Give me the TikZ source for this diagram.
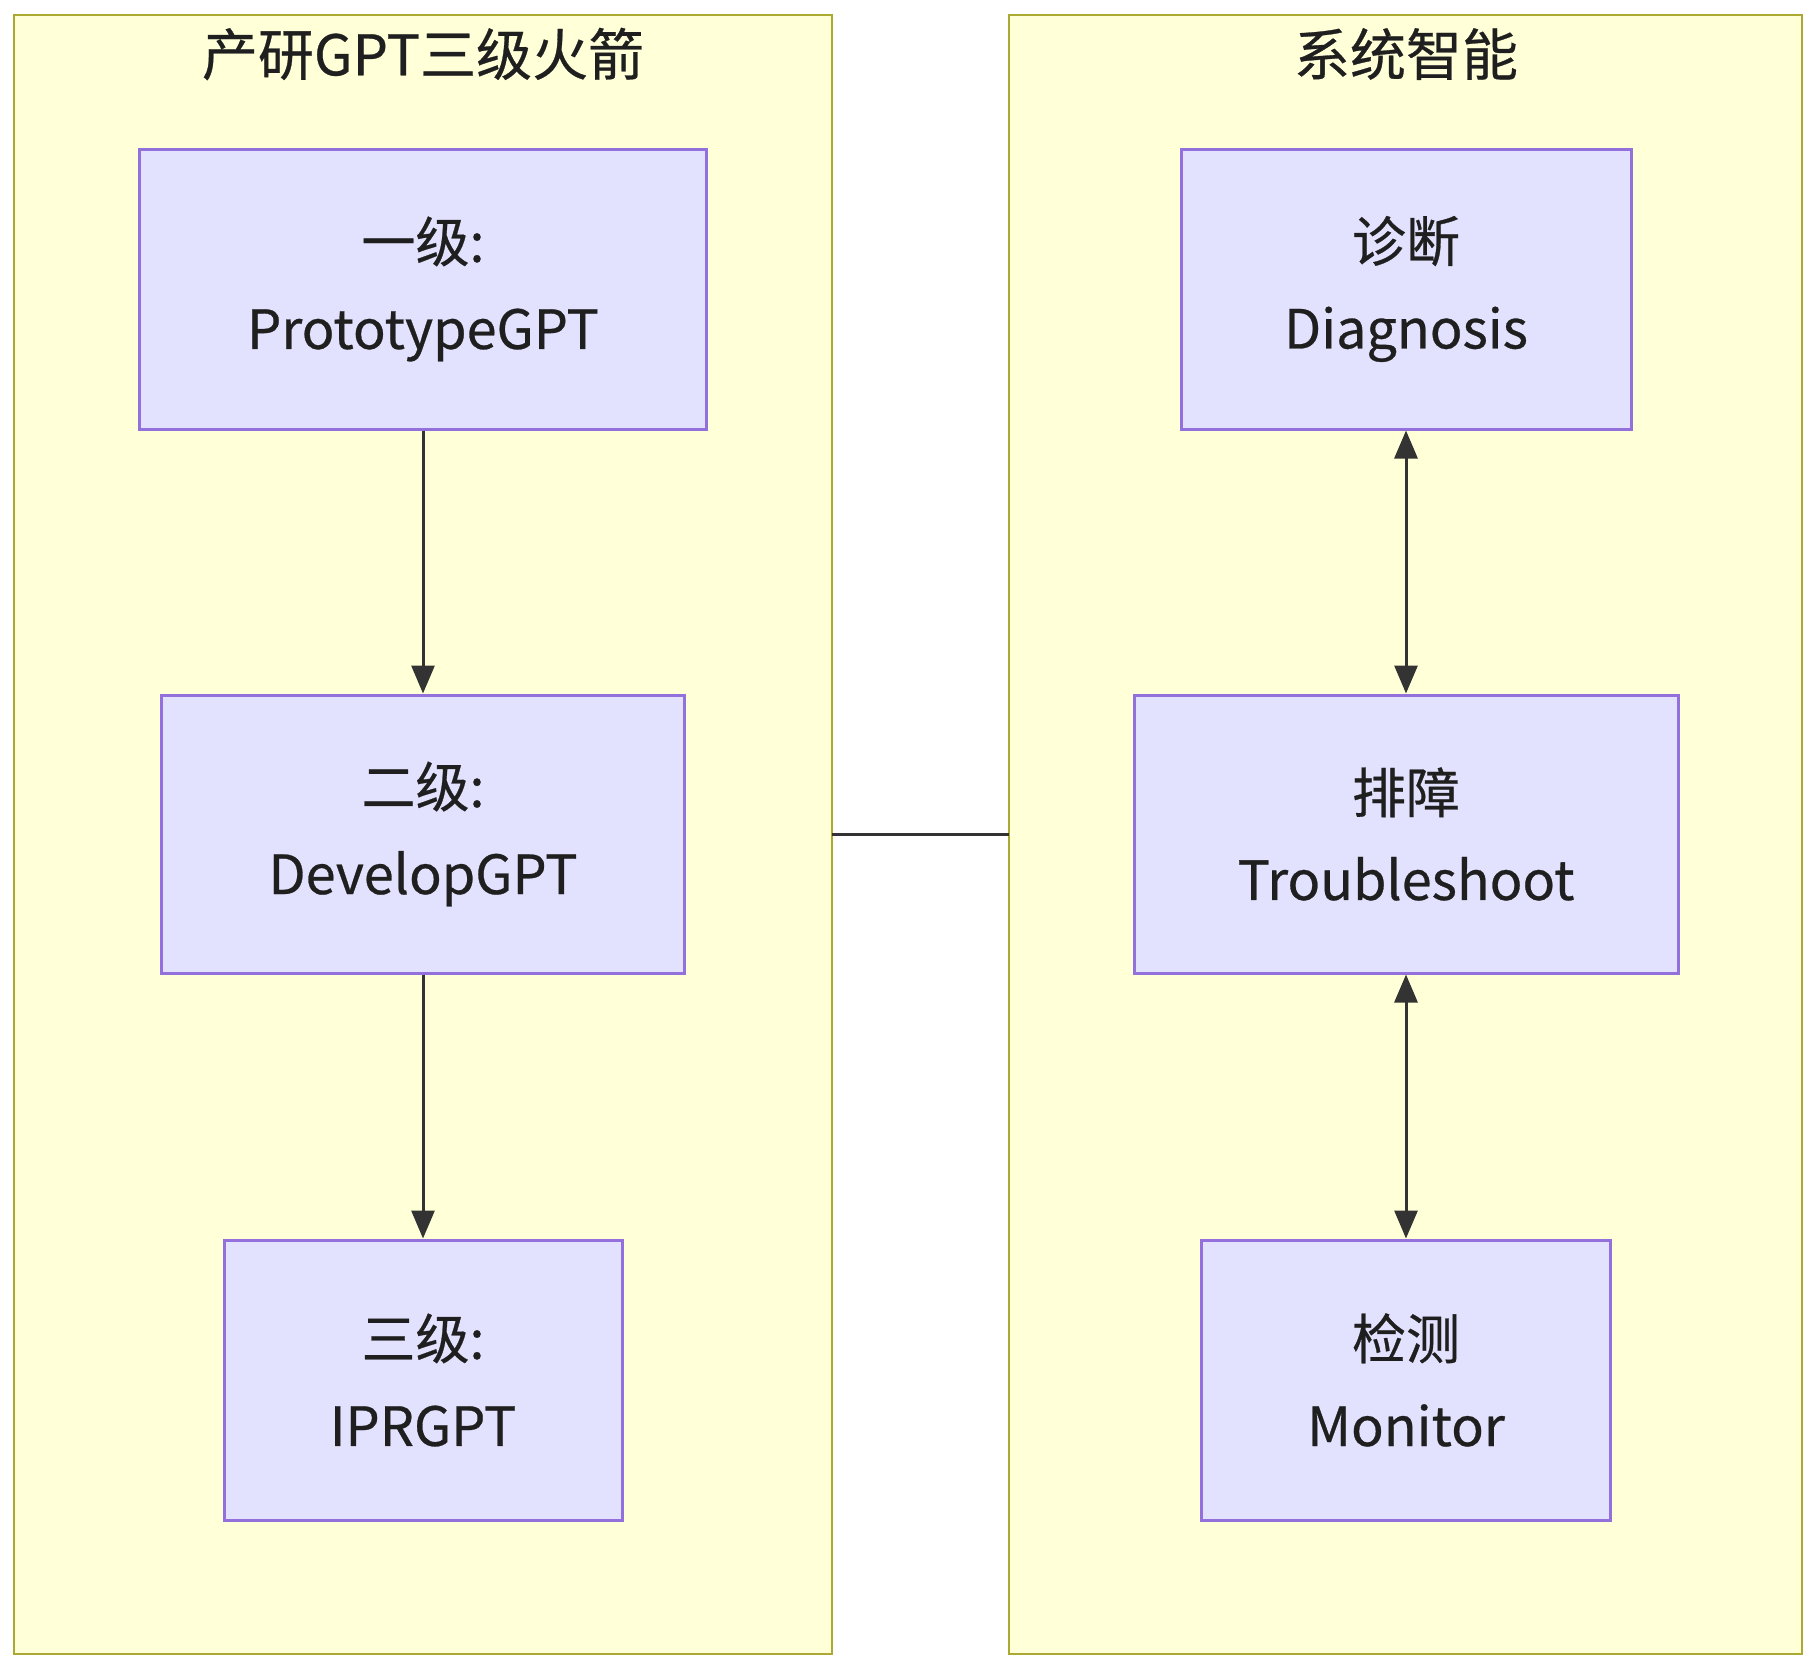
\documentclass[tikz,border=0pt]{standalone}
\usepackage{fontspec}
\setmainfont{Noto Sans CJK SC}[FakeBold=0.5]
\usetikzlibrary{arrows.meta}
\definecolor{clfill}{HTML}{FFFFD8}
\definecolor{cldraw}{HTML}{AAAA33}
\definecolor{ndfill}{HTML}{E2E2FE}
\definecolor{nddraw}{HTML}{9370DB}
\definecolor{edge}{HTML}{333333}
\definecolor{txt}{HTML}{1F1F1F}
\tikzset{
  cluster/.style={draw=cldraw, fill=clfill, line width=2.5pt},
  box/.style={draw=nddraw, fill=ndfill, line width=3pt, align=center, text=txt,
    font=\fontsize{54}{87}\selectfont, inner sep=0pt},
  ctitle/.style={font=\fontsize{56}{60}\selectfont, text=txt},
  link/.style={draw=edge, line width=3pt},
  tip/.style={-{Triangle[length=28pt,width=23pt]}},
  tips/.style={{Triangle[length=28pt,width=23pt]}-{Triangle[length=28pt,width=23pt]}}
}
\begin{document}
\begin{tikzpicture}[x=1pt,y=-1pt]
\useasboundingbox (0,0) rectangle (1816,1666);
\fill[white] (0,0) rectangle (1816,1666);
% clusters
\draw[cluster] (14,15) rectangle (832,1654);
\draw[cluster] (1009,15) rectangle (1802,1654);
\node[ctitle] (t1) at (423,54) {产研GPT三级火箭};
\node[ctitle] (t2) at (1406,54) {系统智能};
\coordinate (c1) at (832,834);
\coordinate (c2) at (1009,834);
% left nodes
\node[box, minimum width=567pt, minimum height=280pt] (a) at (423,289) {一级:\\PrototypeGPT};
\node[box, minimum width=523pt, minimum height=278pt] (b) at (423,834) {二级:\\DevelopGPT};
\node[box, minimum width=398pt, minimum height=280pt] (c) at (423,1380) {三级:\\IPRGPT};
% right nodes
\node[box, minimum width=450pt, minimum height=280pt] (d) at (1406,289) {诊断\\Diagnosis};
\node[box, minimum width=544pt, minimum height=278pt] (e) at (1406,834) {排障\\Troubleshoot};
\node[box, minimum width=409pt, minimum height=280pt] (f) at (1406,1380) {检测\\Monitor};
% edges
\draw[link, tip] (a) -- (b);
\draw[link, tip] (b) -- (c);
\draw[link, tips] (d) -- (e);
\draw[link, tips] (e) -- (f);
\draw[link] (c1) -- (c2);
\end{tikzpicture}
\end{document}
